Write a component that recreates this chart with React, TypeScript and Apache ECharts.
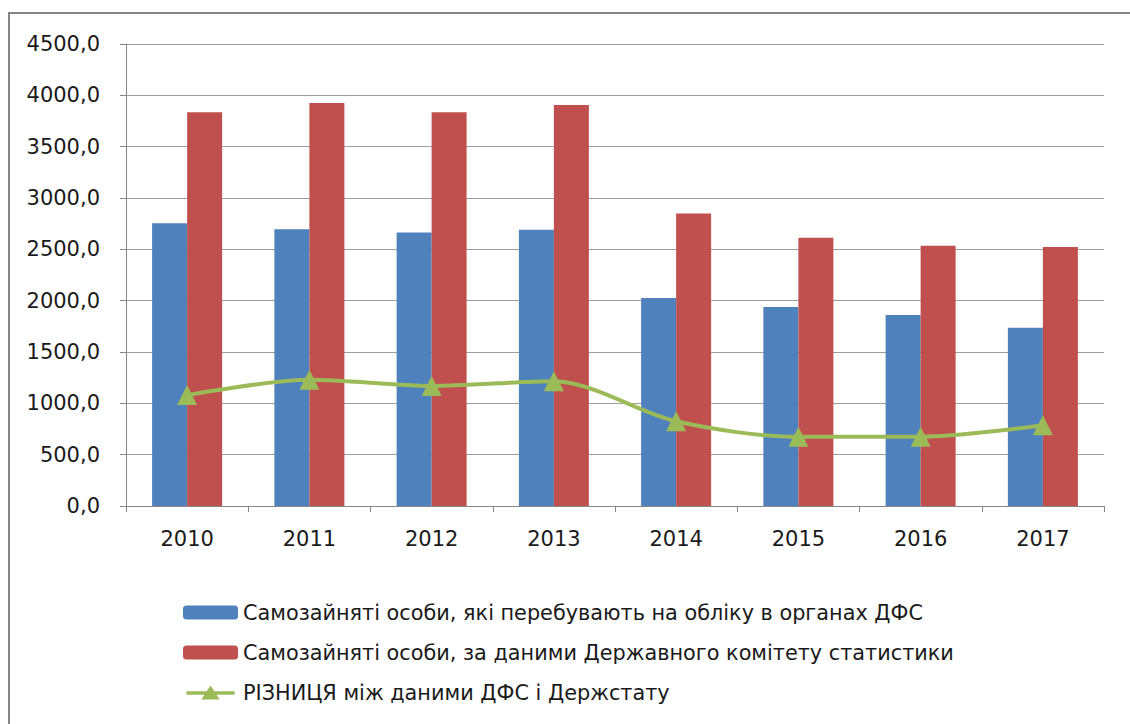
import React, { useEffect, useRef } from "react";
import * as echarts from "echarts";

const years = ["2010", "2011", "2012", "2013", "2014", "2015", "2016", "2017"];
const dfsValues = [2755, 2695, 2665, 2690, 2025, 1938, 1860, 1736];
const statValues = [3835, 3925, 3835, 3905, 2850, 2612, 2535, 2522];
const diffValues = [1080, 1230, 1170, 1215, 825, 674, 675, 786];

const seriesNames = [
  "Самозайняті особи, які перебувають на обліку в органах ДФС",
  "Самозайняті особи, за даними Державного комітету статистики",
  "РІЗНИЦЯ між даними ДФС і Держстату",
];

const lineLegendIcon =
  "path://M0,6.5 L55,6.5 L55,10.5 L0,10.5 Z M27.5,0 L38,16 L17,16 Z";

export default function App() {
  const ref = useRef<HTMLDivElement>(null);
  useEffect(() => {
    if (!ref.current) return;
    const chart = echarts.init(ref.current, null, { renderer: "svg" });
    chart.setOption({
      animation: false,
      backgroundColor: "#ffffff",
      graphic: [
        {
          type: "rect",
          shape: { x: 9, y: 13, width: 1300, height: 900 },
          style: { fill: "none", stroke: "#858585", lineWidth: 2 },
          silent: true,
        },
      ],
      grid: { left: 126, top: 44, right: 26, bottom: 218 },
      legend: {
        orient: "vertical",
        left: 183,
        top: 602,
        padding: 0,
        itemWidth: 55,
        itemHeight: 14,
        itemGap: 19,
        textStyle: {
          fontFamily: "DejaVu Sans",
          fontSize: 20.8,
          lineHeight: 21,
          color: "#1a1a1a",
        },
        data: [
          seriesNames[0],
          seriesNames[1],
          { name: seriesNames[2], icon: lineLegendIcon },
        ],
      },
      xAxis: {
        type: "category",
        data: years,
        axisLine: { lineStyle: { color: "#868686", width: 1 } },
        axisTick: { show: true, length: 6, lineStyle: { color: "#868686" } },
        axisLabel: {
          margin: 22,
          fontFamily: "DejaVu Sans",
          fontSize: 21,
          color: "#1a1a1a",
        },
      },
      yAxis: {
        type: "value",
        min: 0,
        max: 4500,
        interval: 500,
        axisLine: { show: true, lineStyle: { color: "#868686", width: 1 } },
        axisTick: { show: true, length: 6, lineStyle: { color: "#868686" } },
        axisLabel: {
          margin: 26,
          fontFamily: "DejaVu Sans",
          fontSize: 21,
          color: "#1a1a1a",
          formatter: (v: number) => v.toFixed(1).replace(".", ","),
        },
        splitLine: { lineStyle: { color: "#9e9e9e", width: 1 } },
      },
      series: [
        {
          name: seriesNames[0],
          type: "bar",
          data: dfsValues,
          barWidth: 35,
          barGap: "0%",
          itemStyle: { color: "#4f81bd" },
        },
        {
          name: seriesNames[1],
          type: "bar",
          data: statValues,
          barWidth: 35,
          barGap: "0%",
          itemStyle: { color: "#c0504d" },
        },
        {
          name: seriesNames[2],
          type: "line",
          data: diffValues,
          smooth: 0.3,
          symbol: "triangle",
          symbolSize: 20,
          lineStyle: { color: "#9bbb59", width: 4 },
          itemStyle: { color: "#9bbb59" },
        },
      ],
    });
    return () => chart.dispose();
  }, []);
  return (
    <div
      ref={ref}
      style={{ position: "fixed", left: 0, top: 0, width: 1130, height: 724 }}
    />
  );
}
